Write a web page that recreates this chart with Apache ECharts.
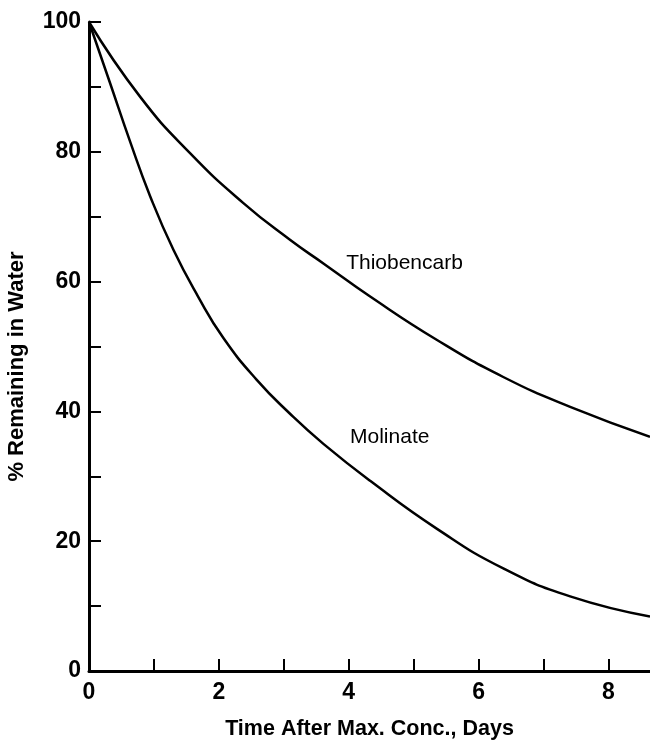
<!DOCTYPE html>
<html>
<head>
<meta charset="utf-8">
<script src="https://cdn.jsdelivr.net/npm/echarts@6/dist/echarts.min.js"></script>
<style>html,body{margin:0;padding:0;background:#fff}#c{width:650px;height:741px}</style>
</head>
<body>
<div id="c"></div>
<script>
// Data
const thiobencarbX = [0, 0.786, 1.556, 2.378, 3.10, 3.61, 4.33, 5.36, 6.38, 7.41, 8.64];
const thiobencarbY = [100, 88.5, 79.8, 72.1, 66.4, 62.8, 57.7, 51.0, 45.3, 40.7, 36.1];
const molinateX = [0, 0.324, 0.632, 0.94, 1.30, 1.68, 2.07, 2.58, 3.10, 3.61, 4.33, 5.36, 6.38, 7.41, 8.64];
const molinateY = [100, 90.6, 81.6, 73.2, 64.9, 57.7, 51.3, 44.9, 39.6, 35.0, 29.3, 21.9, 15.8, 11.5, 8.4];
const xTicks = [0, 1, 2, 3, 4, 5, 6, 7, 8];
const xTickLabels = [0, 2, 4, 6, 8];
const yTicks = [0, 10, 20, 30, 40, 50, 60, 70, 80, 90, 100];
const yTickLabels = [0, 20, 40, 60, 80, 100];
const seriesNames = ['Thiobencarb', 'Molinate'];
const curveLabelAt = [[3.96, 62.9], [4.02, 36.1]];
const xTitle = 'Time After Max. Conc., Days';
const yTitle = '% Remaining in Water';

const FONT = '"Liberation Sans", Arial, Helvetica, sans-serif';
const zip = (xs, ys) => xs.map((x, i) => [x, ys[i]]);

const chart = echarts.init(document.getElementById('c'), null, {renderer: 'canvas'});
const mkSeries = (name, data, labelAt) => ({
  name, type: 'line', data, smooth: 0.5, showSymbol: false, symbol: 'none',
  lineStyle: {color: '#000', width: 2.5}, z: 3,
  markPoint: {
    symbol: 'circle', symbolSize: 0, silent: true,
    data: [{coord: labelAt, value: name}],
    label: {show: true, position: 'right', distance: 0, formatter: name,
      color: '#000', fontFamily: FONT, fontSize: 21}
  }
});

chart.setOption({
  backgroundColor: '#fff',
  animation: false,
  grid: {left: 89, right: 0, top: 22, bottom: 70, containLabel: false, outerBoundsMode: 'none'},
  xAxis: {
    type: 'value', min: 0, max: 8.64, interval: 1,
    splitLine: {show: false},
    axisLine: {show: true, lineStyle: {color: '#000', width: 3}},
    axisTick: {show: true, inside: true, length: 12, customValues: xTicks, lineStyle: {color: '#000', width: 2}},
    axisLabel: {customValues: xTickLabels, margin: 10, color: '#000', fontFamily: FONT, fontWeight: 'bold', fontSize: 23},
    name: xTitle, nameLocation: 'middle', nameGap: 47,
    nameTextStyle: {color: '#000', fontFamily: FONT, fontWeight: 'bold', fontSize: 21.5}
  },
  yAxis: {
    type: 'value', min: 0, max: 100, interval: 10,
    splitLine: {show: false},
    axisLine: {show: true, lineStyle: {color: '#000', width: 3}},
    axisTick: {show: true, inside: true, length: 12, customValues: yTicks, lineStyle: {color: '#000', width: 2}},
    axisLabel: {customValues: yTickLabels, margin: 8, color: '#000', fontFamily: FONT, fontWeight: 'bold', fontSize: 23},
    name: yTitle, nameLocation: 'middle', nameGap: 61,
    nameTextStyle: {color: '#000', fontFamily: FONT, fontWeight: 'bold', fontSize: 22, padding: [0, 40, 0, 0]}
  },
  series: [
    mkSeries(seriesNames[0], zip(thiobencarbX, thiobencarbY), curveLabelAt[0]),
    mkSeries(seriesNames[1], zip(molinateX, molinateY), curveLabelAt[1])
  ]
});
</script>
</body>
</html>
